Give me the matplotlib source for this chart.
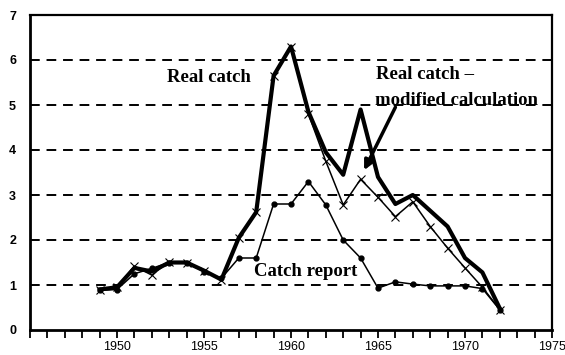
import matplotlib
matplotlib.use("Agg")
import matplotlib.pyplot as plt
from matplotlib.ticker import MultipleLocator

years = list(range(1949, 1973))
real_catch = [0.9, 0.95, 1.42, 1.22, 1.52, 1.5, 1.32, 1.12, 2.05, 2.62, 5.65, 6.3,
              4.8, 3.75, 2.78, 3.35, 2.95, 2.52, 2.85, 2.3, 1.82, 1.38, 0.95, 0.45]
modified = [0.9, 0.95, 1.38, 1.3, 1.5, 1.5, 1.32, 1.12, 2.05, 2.62, 5.65, 6.3,
            4.85, 3.95, 3.45, 4.9, 3.4, 2.8, 3.0, 2.65, 2.3, 1.6, 1.28, 0.48]
catch_report = [0.88, 0.9, 1.25, 1.37, 1.5, 1.5, 1.3, 1.15, 1.6, 1.6, 2.8, 2.8,
                3.3, 2.78, 2.0, 1.6, 0.93, 1.07, 1.02, 0.98, 0.98, 0.98, 0.92, 0.45]
xticks = [1950, 1955, 1960, 1965, 1970, 1975]
yticks = [0, 1, 2, 3, 4, 5, 6, 7]

fig = plt.figure(figsize=(5.65, 3.55), dpi=100)
ax = fig.add_axes([30/565, 1-330/355, (552-30)/565, (330-15)/355])

for y in yticks[1:-1]:
    ax.axhline(y, color="black", lw=1.4, ls=(0, (5, 3.5)), zorder=1)

ax.plot(years, modified, color="black", lw=3.0, zorder=3)
ax.plot(years, real_catch, color="black", lw=1.1, marker="x", ms=6, mew=0.8, zorder=4)
ax.plot(years, catch_report, color="black", lw=1.1, marker="o", ms=3.5, zorder=4)

ax.set_xlim(1945, 1975)
ax.set_ylim(0, 7)
ax.set_xticks(xticks)
ax.xaxis.set_minor_locator(MultipleLocator(1))
ax.set_yticks(yticks)
ax.tick_params(axis="x", which="both", direction="out", length=6, width=1.3,
               labelsize=9, pad=2)
ax.tick_params(axis="y", length=0, labelsize=9, pad=10)
for lab in ax.get_xticklabels() + ax.get_yticklabels():
    lab.set_family("Liberation Sans")
for lab in ax.get_yticklabels():
    lab.set_fontweight("bold")

ax.spines["left"].set_linewidth(2.0)
ax.spines["bottom"].set_linewidth(2.0)
ax.spines["top"].set_linewidth(1.6)
ax.spines["right"].set_linewidth(1.6)

tf = dict(family="Liberation Serif", fontweight="bold", fontsize=13.5)
ax.text(1952.9, 5.6, "Real catch", ha="left", va="center", **tf)
ax.text(1964.9, 5.68, "Real catch \u2013", ha="left", va="center", **tf)
ax.text(1964.8, 5.1, "modified calculation", ha="left", va="center", **tf)
ax.text(1957.9, 1.29, "Catch report", ha="left", va="center", **tf)
ax.annotate("", xy=(1964.2, 3.55), xytext=(1966.0, 4.95),
            arrowprops=dict(arrowstyle="-|>", lw=2.5, color="black",
                            mutation_scale=14, shrinkA=0, shrinkB=0))

fig.savefig("out.png", dpi=100)
